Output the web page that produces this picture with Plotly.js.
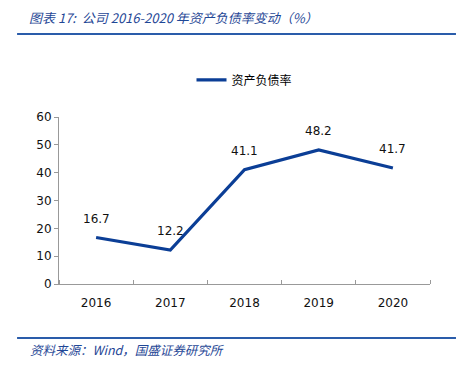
<!DOCTYPE html>
<html>
<head>
<meta charset="utf-8">
<script src="https://cdn.plot.ly/plotly-3.0.1.min.js"></script>
<style>html,body{margin:0;padding:0;background:#fff;}#chart{width:464px;height:370px;}</style>
</head>
<body>
<div id="chart"></div>
<script>
const categories = ['2016', '2017', '2018', '2019', '2020'];
const debtRatio = [16.7, 12.2, 41.1, 48.2, 41.7];
const yTicks = [0, 10, 20, 30, 40, 50, 60];
const seriesName = '资产负债率';
const titleText = '图表 17:  公司 2016-2020 年资产负债率变动（%）';
const sourceText = '资料来源：Wind，国盛证券研究所';

const numFont = 'Tahoma, Verdana, "DejaVu Sans", sans-serif';
const cjkFont = '"Noto Sans CJK SC", "DejaVu Sans", sans-serif';
const lineColor = '#0b3e96';
const ruleColor = '#2a5caa';

const xIdx = categories.map((c, i) => i);
const boundaries = categories.map((c, i) => i - 0.5).concat([categories.length - 0.5]);

const labelAnnotations = xIdx.map((x, i) => ({
  x: x, y: debtRatio[i], xref: 'x', yref: 'y',
  text: debtRatio[i].toFixed(1), showarrow: false,
  yanchor: 'bottom', yshift: 10,
  font: {family: numFont, size: 12, color: '#111'}
}));

const data = [{
  x: xIdx, y: debtRatio, type: 'scatter', mode: 'lines',
  name: seriesName,
  line: {color: lineColor, width: 3.2},
  hoverinfo: 'none'
}];

const layout = {
  width: 464, height: 370,
  margin: {l: 59, r: 34, t: 117, b: 86},
  paper_bgcolor: '#fff', plot_bgcolor: '#fff',
  showlegend: true,
  legend: {orientation: 'h', x: 0.5, xanchor: 'center', y: 1.222, yanchor: 'middle',
    font: {family: cjkFont, size: 12, color: '#000'}},
  xaxis: {
    range: [-0.5, categories.length - 0.5],
    tickmode: 'array', tickvals: xIdx, ticktext: categories, ticks: '',
    minor: {tickmode: 'array', tickvals: boundaries, ticks: 'inside', ticklen: 4, tickcolor: '#999', showgrid: false},
    showline: true, linecolor: '#999', linewidth: 1, showgrid: false, zeroline: false,
    tickangle: 0, ticklabelstandoff: 8,
    tickfont: {family: numFont, size: 12, color: '#111'}, fixedrange: true
  },
  yaxis: {
    range: [0, 60], tickvals: yTicks, ticks: 'outside', ticklen: 4, tickcolor: '#999',
    showline: true, linecolor: '#999', linewidth: 1, showgrid: false, zeroline: false,
    tickfont: {family: numFont, size: 12, color: '#111'}, fixedrange: true
  },
  shapes: [
    {type: 'line', xref: 'paper', yref: 'paper', x0: -0.113, x1: 1.070, y0: 1.497, y1: 1.497,
     line: {color: ruleColor, width: 2}},
    {type: 'line', xref: 'paper', yref: 'paper', x0: -0.113, x1: 1.070, y0: -0.323, y1: -0.323,
     line: {color: ruleColor, width: 2}}
  ],
  annotations: labelAnnotations.concat([
    {xref: 'paper', yref: 'paper', x: -0.086, y: 1.593, xanchor: 'left', yanchor: 'middle',
     text: '<i>' + titleText + '</i>', showarrow: false,
     font: {family: cjkFont, size: 13, color: '#1f4796'}},
    {xref: 'paper', yref: 'paper', x: -0.084, y: -0.395, xanchor: 'left', yanchor: 'middle',
     text: '<i>' + sourceText + '</i>', showarrow: false,
     font: {family: cjkFont, size: 12.5, color: '#1f4796'}}
  ])
};

Plotly.newPlot('chart', data, layout, {displayModeBar: false, staticPlot: true});
</script>
</body>
</html>
